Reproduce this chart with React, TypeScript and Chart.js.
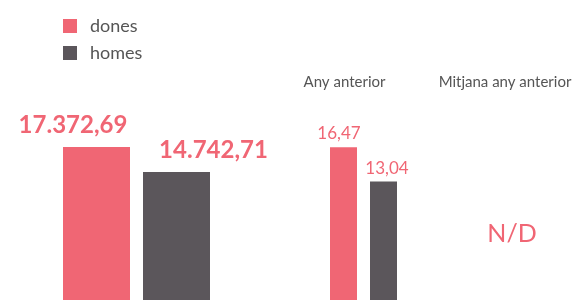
import React, { useEffect, useRef } from "react";
import { Chart, registerables } from "chart.js";
Chart.register(...registerables);

// ---- data ----
const seriesNames = ["dones", "homes"];
const seriesColors = ["#F06674", "#5B565B"];
const currentCategory = ["Actual"];
const currentValues = [17372.69, 14742.71];
const previousCategory = ["Any anterior"];
const previousValues = [16.47, 13.04];
const averageTitle = "Mitjana any anterior";
const averageText = "N/D";

// ---- style ----
const FONT = "Lato, 'Noto Sans', sans-serif";
const TEXT_GRAY = "#555555";
const PINK = seriesColors[0];

function fmt(v: number): string {
  const [intPart, dec] = v.toFixed(2).split(".");
  const withDots = intPart.replace(/\B(?=(\d{3})+(?!\d))/g, ".");
  return withDots + "," + dec;
}

const mainPlugin = {
  id: "mainDecor",
  afterDatasetsDraw(chart: any) {
    const ctx = chart.ctx;
    ctx.save();
    // legend
    seriesNames.forEach((name, i) => {
      const y = 19 + i * 27;
      ctx.fillStyle = seriesColors[i];
      ctx.fillRect(63, y, 14, 14);
      ctx.fillStyle = TEXT_GRAY;
      ctx.font = `18px ${FONT}`;
      ctx.textAlign = "left";
      ctx.textBaseline = "middle";
      ctx.fillText(name, 90, y + 7);
    });
    // value labels
    const offsets = [-23.5, 37];
    ctx.font = `bold 24px ${FONT}`;
    ctx.textAlign = "center";
    ctx.textBaseline = "alphabetic";
    ctx.fillStyle = PINK;
    chart.data.datasets.forEach((ds: any, i: number) => {
      const el = chart.getDatasetMeta(i).data[0];
      ctx.fillText(fmt(ds.data[0]), el.x + offsets[i], el.y - 14);
    });
    ctx.restore();
  },
};

const prevPlugin = {
  id: "prevDecor",
  afterDatasetsDraw(chart: any) {
    const ctx = chart.ctx;
    ctx.save();
    ctx.fillStyle = TEXT_GRAY;
    ctx.font = `15px ${FONT}`;
    ctx.textBaseline = "alphabetic";
    ctx.textAlign = "center";
    ctx.fillText(previousCategory[0], 54.5, 87);
    ctx.fillText(averageTitle, 215, 87);

    const offsets = [-4.5, 3.5];
    ctx.font = `17px ${FONT}`;
    ctx.fillStyle = PINK;
    chart.data.datasets.forEach((ds: any, i: number) => {
      const el = chart.getDatasetMeta(i).data[0];
      ctx.fillText(fmt(ds.data[0]), el.x + offsets[i], el.y - 8);
    });

    ctx.font = `25px ${FONT}`;
    ctx.fillText(averageText, 222, 242);
    ctx.restore();
  },
};

export default function App() {
  const ref1 = useRef<HTMLCanvasElement>(null);
  const ref2 = useRef<HTMLCanvasElement>(null);

  useEffect(() => {
    const c1 = new Chart(ref1.current!, {
      type: "bar",
      data: {
        labels: currentCategory,
        datasets: seriesNames.map((n, i) => ({
          label: n,
          data: [currentValues[i]],
          backgroundColor: seriesColors[i],
          borderWidth: 0,
          categoryPercentage: 160 / 273,
          barPercentage: 0.8375,
        })),
      },
      options: {
        responsive: false,
        animation: false,
        layout: { padding: { top: 122, left: 0, right: 0, bottom: 0 } },
        plugins: { legend: { display: false }, tooltip: { enabled: false } },
        scales: {
          x: { display: false },
          y: { display: false, min: 0, max: 20000 },
        },
      },
      plugins: [mainPlugin],
    });
    const c2 = new Chart(ref2.current!, {
      type: "bar",
      data: {
        labels: previousCategory,
        datasets: seriesNames.map((n, i) => ({
          label: n,
          data: [previousValues[i]],
          backgroundColor: seriesColors[i],
          borderWidth: 0,
          categoryPercentage: 80 / 147,
          barPercentage: 0.675,
        })),
      },
      options: {
        responsive: false,
        animation: false,
        layout: { padding: { top: 112, left: 0, right: 137, bottom: 0 } },
        plugins: { legend: { display: false }, tooltip: { enabled: false } },
        scales: {
          x: { display: false },
          y: { display: false, min: 0, max: 20 },
        },
      },
      plugins: [prevPlugin],
    });
    return () => {
      c1.destroy();
      c2.destroy();
    };
  }, []);

  return (
    <div
      style={{
        position: "fixed",
        left: 0,
        top: 0,
        width: 574,
        height: 300,
        overflow: "hidden",
        background: "#ffffff",
      }}
    >
      <canvas
        ref={ref1}
        width={273}
        height={312}
        style={{ position: "absolute", left: 0, top: 0, width: 273, height: 312 }}
      />
      <canvas
        ref={ref2}
        width={284}
        height={312}
        style={{ position: "absolute", left: 290, top: 0, width: 284, height: 312 }}
      />
    </div>
  );
}
